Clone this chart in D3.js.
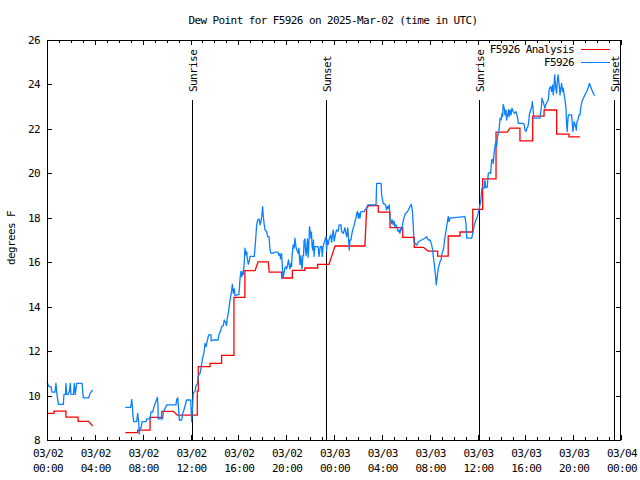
<!DOCTYPE html>
<html><head><meta charset="utf-8">
<script src="https://cdn.jsdelivr.net/npm/d3@7"></script>
<style>
html,body{margin:0;padding:0;background:#fff;}
svg text{font-family:"DejaVu Sans Mono","Liberation Mono",monospace;font-size:11px;letter-spacing:-0.6px;fill:#000;}
</style>
</head><body>
<svg id="chart" width="640" height="480"></svg>
<script>
// ---- data (minutes after 2025-03-02 00:00 UTC) ----
const title = "Dew Point for F5926 on 2025-Mar-02 (time in UTC)";
const yLabel = "degrees F";
const seriesNames = ["F5926 Analysis", "F5926"];
const yTicks = [8, 10, 12, 14, 16, 18, 20, 22, 24, 26];

const sunLabels = ["Sunrise", "Sunset", "Sunrise", "Sunset"];
const sunMin = [729, 1401, 2168, 2846];

// analysis (red) - step corners; null = gap
const anaMin = [0,35,35,95,95,156,156,209,229, 300,
 393,455,455,517,517,576,576,634,654,754,754,759,759,818,818,876,876,938,938,993,993,1044,1059,1110,1115,1178,1178,1231,1231,1294,1294,1358,1358,1415,1445,1595,1604,1615,1662,1662,1721,1721,1785,1785,1843,1843,1888,1913,1960,1960,2013,2013,2072,2072,2136,2136,2186,2186,2253,2253,2309,2323,2373,2373,2437,2437,2494,2494,2557,2557,2619,2619,2674];
const anaDew = [9.2,9.2,9.3,9.3,9.03,9.03,8.84,8.84,8.63, null,
 8.33,8.33,8.44,8.44,9.02,9.02,9.29,9.29,9.12,9.12,10.2,10.2,11.3,11.3,11.45,11.45,11.81,11.81,14.42,14.42,15.62,15.62,16.02,16.02,15.55,15.55,15.29,15.29,15.63,15.63,15.74,15.74,15.9,15.9,16.73,16.73,18.45,18.55,18.55,18.25,18.25,17.56,17.56,17.12,17.12,16.67,16.67,16.5,16.5,16.27,16.27,17.18,17.18,17.36,17.36,18.38,18.38,19.75,19.75,21.85,21.85,22.03,22.03,21.46,21.46,22.57,22.57,22.85,22.85,21.76,21.76,21.64,21.64];

// observations (blue); null = gap
const obsMin = [0,10,20,25,40,45,50,57,82,85,93,95,99,105,113,117,120,133,137,142,149,176,182,209,216,229, 300,
 393,420,425,429,431,435,450,455,460,463,467,472,477,497,500,517,522,530,537,554,557,558,580,584,601,647,651,656,664,676,681,687,701,721,724,726,734,743,748,754,759,768,773,779,788,793,798,803,811,823,824,833,858,864,869,876,885,889,896,901,904,911,916,923,926,930,935,940,943,963,968,973,978,983,985,990,993,998,1002,1005,1010,1015,1019,1040,1045,1052,1057,1064,1069,1074,1077,1082,1085,1089,1094,1102,1107,1114,1119,1124,1130,1144,1159,1164,1169,1172,1177,1180,1184,1189,1194,1199,1202,1207,1212,1215,1219,1224,1227,1230,1235,1240,1244,1249,1254,1260,1264,1269,1274,1277,1280,1284,1287,1290,1294,1297,1300,1304,1307,1310,1314,1317,1320,1324,1327,1330,1334,1337,1340,1344,1360,1365,1371,1378,1381,1385,1400,1403,1406,1411,1416,1423,1428,1433,1436,1441,1448,1453,1461,1466,1475,1478,1487,1495,1500,1504,1509,1514,1517,1520,1525,1530,1537,1542,1547,1550,1554,1559,1562,1567,1570,1575,1592,1595,1604,1609,1651,1654,1676,1679,1687,1699,1704,1707,1712,1717,1721,1726,1729,1734,1737,1742,1746,1751,1757,1762,1767,1771,1776,1780,1785,1791,1798,1805,1813,1821,1828,1833,1838,1841,1855,1863,1896,1905,1913,1922,1930,1935,1938,1943,1947,1950,1953,1958,1963,1968,1972,1977,1982,1985,1990,1995,2000,2005,2010,2013,2017,2022,2030,2097,2102,2106,2131,2136,2144,2152,2159,2167,2176,2182,2194,2197,2202,2209,2214,2219,2226,2231,2236,2239,2244,2249,2253,2256,2261,2264,2269,2273,2278,2283,2286,2289,2294,2298,2303,2306,2311,2316,2319,2323,2328,2333,2339,2346,2353,2360,2365,2390,2395,2398,2403,2408,2413,2417,2420,2427,2432,2435,2440,2443,2473,2480,2483,2490,2498,2503,2510,2515,2520,2527,2532,2537,2540,2544,2547,2550,2554,2557,2560,2564,2567,2570,2574,2577,2582,2587,2590,2595,2599,2604,2607,2610,2614,2617,2632,2635,2639,2642,2645,2650,2656,2659,2664,2669,2674,2679,2684,2691,2699,2708,2716,2721,2728,2734,2741,2748];
const obsDew = [10.6,10.4,10.4,10.15,10.15,10.55,10.05,9.6,9.6,10.05,10.05,10.55,10.05,10.05,10.2,10.55,10.05,10.05,10.55,10.05,10.55,10.55,9.9,9.9,10.1,10.25, null,
 9.47,9.47,9.83,9.47,9.12,8.83,8.83,9.2,8.83,8.27,8.53,8.53,8.83,8.83,8.95,8.95,9.27,9.25,9.5,9.92,9.5,8.95,8.95,9.27,9.58,9.58,9.83,9.9,8.9,8.9,9.2,9.35,9.8,9.8,9.2,8.83,10.1,10.2,10.47,10.5,10.88,11.0,11.23,11.6,11.97,12.35,12.2,12.4,12.73,12.73,12.46,12.5,12.5,12.8,12.85,13.1,13.15,13.4,13.3,13.15,13.45,13.77,14.15,14.53,14.7,15.0,14.6,14.8,14.5,14.55,15.2,15.6,15.35,15.6,15.45,16.02,16.63,16.33,16.48,16.18,15.91,16.05,16.26,16.26,16.78,17.68,17.9,17.95,17.68,17.85,18.05,18.5,18.1,17.75,17.45,17.38,17.15,17.15,16.55,16.4,16.4,16.45,16.45,16.3,16.38,16.15,16.38,15.95,15.27,15.5,15.75,15.8,15.7,15.88,16.1,15.88,15.7,15.95,15.8,16.33,16.78,16.63,17.08,16.7,16.55,16.4,16.63,15.9,16.3,15.85,15.7,16.3,16.3,16.98,17.05,16.55,16.3,16.7,17.05,16.23,16.8,17.6,17.45,17.08,17.35,16.7,16.55,17.0,16.26,16.7,16.7,16.26,16.7,16.7,16.26,16.7,17.15,16.5,17.0,16.8,17.05,17.23,16.9,17.3,17.45,16.95,17.3,17.45,17.4,17.68,17.68,17.38,17.3,17.55,17.3,17.15,17.55,16.9,16.55,17.0,17.0,17.3,17.55,17.68,17.9,17.98,18.2,18.28,17.98,18.2,17.98,18.28,18.28,18.35,18.43,18.58,18.58,19.55,19.55,19.03,18.65,18.58,18.35,18.5,18.43,18.58,17.98,17.9,17.75,17.9,17.68,17.83,17.6,17.68,17.53,17.38,17.45,17.3,17.53,17.45,17.75,17.98,18.2,18.23,18.35,18.5,18.6,18.35,17.6,16.92,16.77,16.92,17.08,17.15,17.0,17.0,16.78,16.55,16.26,15.95,15.58,15.35,14.98,15.35,15.73,15.88,16.02,16.1,16.4,16.48,16.63,17.0,17.3,17.6,17.9,18.05,17.83,17.98,18.0,18.05,17.75,17.08,17.08,17.3,17.68,17.9,18.05,18.35,18.73,19.33,19.33,19.7,19.35,19.38,20.0,20.03,20.0,20.6,20.63,20.45,20.98,21.28,21.43,21.2,21.73,21.73,22.03,22.48,22.4,22.7,22.55,23.1,22.93,22.63,22.85,22.4,22.63,22.85,22.55,22.85,22.63,22.93,22.78,22.7,22.78,22.55,22.25,22.25,22.18,21.95,21.88,22.03,22.1,22.33,22.63,22.85,23.0,23.23,22.78,22.48,22.48,22.93,23.38,23.2,22.93,23.1,23.23,23.3,23.8,23.9,23.68,23.98,23.53,23.83,24.43,24.13,23.75,23.6,24.05,24.43,24.2,23.98,23.53,23.75,24.05,23.68,23.83,23.53,23.3,22.93,22.25,21.88,22.48,22.63,22.63,22.33,21.88,22.1,22.33,22.18,21.95,22.33,22.4,22.63,22.63,23.0,23.23,23.38,23.53,23.68,23.86,24.05,23.9,23.75,23.6,23.5];

// ---- chart ----
const W = 640, H = 480;
const m = {left: 47, right: 19, top: 40, bottom: 40};
const t0 = Date.UTC(2025, 2, 2, 0, 0);
const toDate = mins => new Date(t0 + mins * 60000);

const svg = d3.select("#chart");
const x = d3.scaleUtc().domain([toDate(0), toDate(2880)]).range([m.left, W - m.right]);
const y = d3.scaleLinear().domain([8, 26]).range([H - m.bottom, m.top]);

const crisp = "crispEdges";
const hourTicks = d3.utcHour.every(1).range(toDate(0), toDate(2881));
const majorTicks = d3.utcHour.every(4).range(toDate(0), toDate(2881));
const fmtD = d3.utcFormat("%m/%d"), fmtH = d3.utcFormat("%H:%M");

// x ticks (bottom & top), y ticks (left & right)
const tk = svg.append("g").attr("stroke", "#000").attr("shape-rendering", crisp);
hourTicks.forEach(d => {
  const isMajor = d.getUTCHours() % 4 === 0;
  const len = isMajor ? 5 : 3;
  const xx = Math.round(x(d)) + 0.5;
  tk.append("line").attr("x1", xx).attr("x2", xx).attr("y1", H - m.bottom).attr("y2", H - m.bottom - len);
  tk.append("line").attr("x1", xx).attr("x2", xx).attr("y1", m.top).attr("y2", m.top + len);
});
yTicks.forEach(v => {
  const yy = Math.round(y(v)) + 0.5;
  tk.append("line").attr("x1", m.left).attr("x2", m.left + 5).attr("y1", yy).attr("y2", yy);
  tk.append("line").attr("x1", W - m.right).attr("x2", W - m.right - 5).attr("y1", yy).attr("y2", yy);
});

// x labels
const xl = svg.append("g").attr("text-anchor", "middle");
majorTicks.forEach(d => {
  const t = xl.append("text").attr("x", x(d) + 1).attr("y", 457);
  t.append("tspan").attr("x", x(d) + 1).attr("y", 457).text(fmtD(d));
  t.append("tspan").attr("x", x(d) + 1).attr("y", 472).text(fmtH(d));
});
// y labels
svg.append("g").attr("text-anchor", "end").selectAll("text").data(yTicks).join("text")
  .attr("x", 40).attr("y", d => y(d) + 4).text(d => d);

// title & axis label
svg.append("text").attr("x", 333).attr("y", 24).attr("text-anchor", "middle").text(title);
svg.append("text").attr("transform", "translate(15,238) rotate(-90)").attr("text-anchor", "middle").text(yLabel);

// sunrise/sunset lines
sunMin.forEach((mm, i) => {
  const xx = Math.round(x(toDate(mm))) + 0.5;
  svg.append("line").attr("x1", xx).attr("x2", xx).attr("y1", 100).attr("y2", H - m.bottom)
    .attr("stroke", "#000").attr("shape-rendering", crisp);
  svg.append("text").attr("transform", `translate(${xx + 4.5},92) rotate(-90)`).attr("text-anchor", "start").text(sunLabels[i]);
});

// series
const ana = anaMin.map((t, i) => ({t: toDate(t), v: anaDew[i]}));
const obs = obsMin.map((t, i) => ({t: toDate(t), v: obsDew[i]}));
const line = d3.line().defined(d => d.v != null).x(d => x(d.t)).y(d => y(d.v));

svg.append("path").datum(ana).attr("d", line).attr("fill", "none").attr("stroke", "#ff0000")
  .attr("stroke-width", 1.3).attr("stroke-linejoin", "miter");
svg.append("path").datum(obs).attr("d", line).attr("fill", "none").attr("stroke", "#0a80ff")
  .attr("stroke-width", 1.3).attr("stroke-linejoin", "round");

// frame
svg.append("rect").attr("x", m.left + 0.5).attr("y", m.top + 0.5)
  .attr("width", W - m.left - m.right - 1).attr("height", H - m.top - m.bottom)
  .attr("fill", "none").attr("stroke", "#000").attr("shape-rendering", crisp);

// legend
const legColors = ["#ff0000", "#0a80ff"];
seriesNames.forEach((n, i) => {
  const ly = 49 + i * 13;
  svg.append("text").attr("x", 574).attr("y", ly + 4).attr("text-anchor", "end").text(n);
  svg.append("line").attr("x1", 581).attr("x2", 610).attr("y1", ly + 0.5).attr("y2", ly + 0.5)
    .attr("stroke", legColors[i]).attr("stroke-width", 1.3).attr("shape-rendering", crisp);
});
</script>
</body></html>
